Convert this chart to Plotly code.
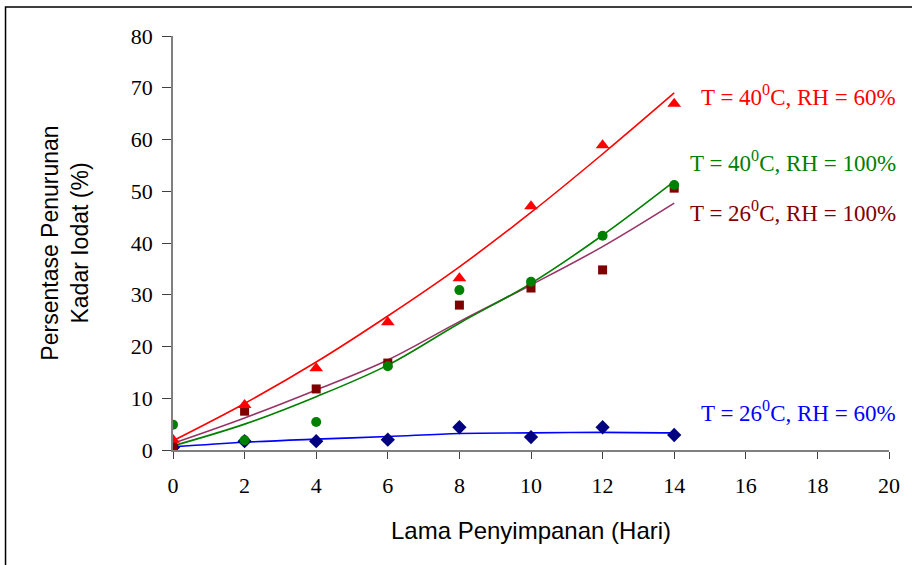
import plotly.graph_objects as go

days = [0, 2, 4, 6, 8, 10, 12, 14]

# measured points
t40_rh60 = [2.0, 8.7, 15.8, 24.7, 33.2, 47.1, 58.9, 66.9]
t40_rh100 = [4.9, 1.9, 5.4, 16.2, 30.9, 32.5, 41.4, 51.2]
t26_rh100 = [0.6, 7.5, 11.8, 16.8, 28.0, 31.3, 34.8, 50.6]
t26_rh60 = [0.5, 1.7, 1.7, 2.0, 4.4, 2.5, 4.4, 2.9]

# trend lines
trend_t40_rh60 = [1.8, 9.0, 17.0, 25.9, 35.4, 45.9, 57.2, 69.0]
trend_t40_rh100 = [0.8, 5.0, 10.3, 16.4, 24.5, 32.2, 41.5, 51.9]
trend_t26_rh100 = [1.3, 6.2, 11.6, 17.4, 24.8, 31.9, 39.3, 47.7]
trend_t26_rh60 = [0.6, 1.5, 2.1, 2.6, 3.2, 3.3, 3.4, 3.3]

labels = ["T = 40<sup>0</sup>C, RH = 60%", "T = 40<sup>0</sup>C, RH = 100%",
          "T = 26<sup>0</sup>C, RH = 100%", "T = 26<sup>0</sup>C, RH = 60%"]
label_y = [0.857, 0.696, 0.577, 0.094]
label_colors = ["#FF0000", "#008000", "#800000", "#0000FF"]

fig = go.Figure()

for ys, c in [(trend_t26_rh60, "#0000FF"), (trend_t26_rh100, "#993366"),
              (trend_t40_rh100, "#008000"), (trend_t40_rh60, "#FF0000")]:
    fig.add_trace(go.Scatter(x=days, y=ys, mode="lines", line=dict(color=c, width=1.6),
                             line_shape="spline", showlegend=False, hoverinfo="skip"))

fig.add_trace(go.Scatter(x=days, y=t26_rh60, mode="markers",
                         marker=dict(symbol="diamond", size=11, color="#000080"), showlegend=False))
fig.add_trace(go.Scatter(x=days, y=t26_rh100, mode="markers",
                         marker=dict(symbol="square", size=9, color="#800000"), showlegend=False))
fig.add_trace(go.Scatter(x=days, y=t40_rh100, mode="markers",
                         marker=dict(symbol="circle", size=10, color="#008000"), showlegend=False))
fig.add_trace(go.Scatter(x=days, y=t40_rh60, mode="markers",
                         marker=dict(symbol="triangle-up", size=12, color="#FF0000"), showlegend=False))

for txt, yv, c in zip(labels, label_y, label_colors):
    fig.add_annotation(x=1.0126, y=yv, xref="paper", yref="paper", text=txt, showarrow=False,
                       xanchor="right", yanchor="middle",
                       font=dict(family="Liberation Serif, Times New Roman, serif", size=23, color=c))

fig.add_shape(type="rect", xref="paper", yref="paper", x0=-0.2339, x1=1.1, y0=-0.4, y1=1.070,
              line=dict(color="black", width=1.5), fillcolor="rgba(0,0,0,0)", layer="below")

fig.update_layout(
    width=912, height=565,
    margin=dict(l=173, r=23, t=36, b=115),
    paper_bgcolor="white", plot_bgcolor="white",
    font=dict(family="Liberation Serif, Times New Roman, serif", size=22, color="black"),
    xaxis=dict(range=[0, 20], tickvals=list(range(0, 21, 2)), showgrid=False, zeroline=False,
               showline=True, linecolor="#808080", linewidth=1.5, ticks="outside", ticklen=7,
               tickcolor="#404040", tickfont=dict(size=22), ticklabelstandoff=8,
               title=dict(text="Lama Penyimpanan (Hari)", standoff=25,
                          font=dict(family="Liberation Sans, Arial, sans-serif", size=24))),
    yaxis=dict(range=[0, 80], tickvals=list(range(0, 81, 10)), showgrid=False, zeroline=False,
               showline=True, linecolor="#808080", linewidth=1.5, ticks="outside", ticklen=9,
               tickcolor="#404040", tickfont=dict(size=22), ticklabelstandoff=5,
               title=dict(text="Persentase Penurunan<br>Kadar Iodat (%)", standoff=36,
                          font=dict(family="Liberation Sans, Arial, sans-serif", size=23))),
)

fig.write_html("out.html", config={"displayModeBar": False},
               post_script="document.body.style.margin='0px';")
